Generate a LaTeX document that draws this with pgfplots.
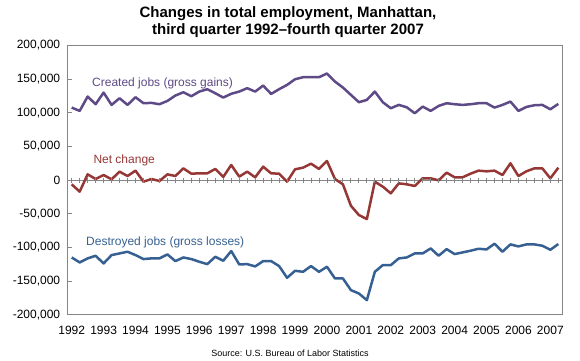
\documentclass[border=0pt]{standalone}
\usepackage{fontspec}
\setmainfont{Liberation Sans}
\usepackage{pgfplots}
\usepackage{pgfplotstable}
\pgfplotsset{compat=1.18}
\definecolor{cpurple}{HTML}{5E4A86}
\definecolor{cred}{HTML}{953735}
\definecolor{cblue}{HTML}{366092}
\definecolor{cgray}{HTML}{868686}
\pgfplotstableread{
i c n d
0 107500 -6400 -115000
1 102600 -17300 -122400
2 123900 8400 -116400
3 112500 1500 -112500
4 129800 7400 -123900
5 111500 1000 -111500
6 121400 12400 -109000
7 111500 5900 -106500
8 122900 13900 -111500
9 114000 -2500 -117400
10 114500 1500 -116400
11 112500 -1500 -116400
12 117400 8400 -110500
13 125400 5900 -120400
14 130300 17300 -115000
15 124400 9400 -117400
16 131300 9900 -121400
17 134800 9900 -124900
18 128800 16400 -114000
19 122400 4500 -119900
20 128000 22300 -105500
21 131300 5000 -125400
22 136300 12400 -124900
23 131300 4000 -128300
24 140200 19800 -120400
25 127800 9900 -120400
26 134800 9400 -127800
27 141200 -2500 -145200
28 149600 15900 -134800
29 152600 18300 -136300
30 152600 24300 -127800
31 152600 16400 -136300
32 158100 28200 -128800
33 146200 1500 -146200
34 137300 -6400 -146200
35 126400 -38200 -163500
36 115500 -52000 -168500
37 118900 -58000 -178400
38 131300 -2500 -136300
39 115500 -9900 -126400
40 106500 -19800 -126400
41 111500 -5000 -116400
42 108000 -6400 -115000
43 99100 -8900 -109000
44 109000 2500 -109000
45 102600 2500 -101600
46 110000 -500 -112500
47 114000 10900 -102600
48 112500 4000 -110000
49 111500 4000 -107500
50 112500 9400 -105000
51 114000 13900 -102100
52 114000 12900 -103100
53 107500 13900 -94600
54 111500 7400 -106500
55 116400 24800 -95600
56 102600 5900 -98600
57 108500 12900 -95600
58 111000 17300 -95600
59 111500 17300 -97600
60 105000 2500 -103600
61 113000 18300 -95100
}\data
\begin{document}
\begin{tikzpicture}[x=1bp,y=1bp]
\useasboundingbox (0,0) rectangle (580,360);
\begin{axis}[
  at={(67.7bp,45.3bp)}, anchor=south west,
  scale only axis, width=494.6bp, height=269.4bp,
  xmin=-0.5, xmax=61.5, ymin=-200000, ymax=200000,
  axis line style={cgray, line width=0.9bp},
  xtick={0,4,...,60},
  xticklabels={1992,1993,1994,1995,1996,1997,1998,1999,2000,2001,2002,2003,2004,2005,2006,2007},
  x tick style={draw=none},
  ytick={-200000,-150000,-100000,-50000,0,50000,100000,150000,200000},
  yticklabels={{-200,000},{-150,000},{-100,000},{-50,000},0,{50,000},{100,000},{150,000},{200,000}},
  scaled y ticks=false,
  ytick pos=left, tick align=inside,
  y tick style={cgray, line width=0.9bp},
  major tick length=4bp,
  tick label style={font=\fontsize{12bp}{14bp}\selectfont, text=black},
  yticklabel style={xshift=-4bp},
  xticklabel style={yshift=-8bp},
  clip=false,
]
\addplot[cgray, line width=0.9bp, forget plot] coordinates {(-0.5,0) (61.5,0)};
\addplot[only marks, mark=|, mark size=2.5bp, mark options={cgray, line width=0.9bp}, forget plot] table[x=i, y expr=0] {\data};
\addplot[cpurple, line width=2.5bp, line join=round, mark=none] table[x=i, y=c] {\data};
\addplot[cred, line width=2.5bp, line join=round, mark=none] table[x=i, y=n] {\data};
\addplot[cblue, line width=2.5bp, line join=round, mark=none] table[x=i, y=d] {\data};
\end{axis}
\node[align=center, font=\fontsize{15bp}{17.7bp}\selectfont\bfseries] at (288,338) {Changes in total employment, Manhattan,\\third quarter 1992--fourth quarter 2007};
\node[anchor=base west, inner sep=0, text=cpurple, font=\fontsize{12bp}{14bp}\selectfont] at (92,274) {Created jobs (gross gains)};
\node[anchor=base west, inner sep=0, text=cred, font=\fontsize{12bp}{14bp}\selectfont] at (93.3,196.7) {Net change};
\node[anchor=base west, inner sep=0, text=cblue, font=\fontsize{12bp}{14bp}\selectfont] at (86,115) {Destroyed jobs (gross losses)};
\node[font=\fontsize{9bp}{11bp}\selectfont] at (290,6.5) {Source: U.S. Bureau of Labor Statistics};
\end{tikzpicture}
\end{document}
